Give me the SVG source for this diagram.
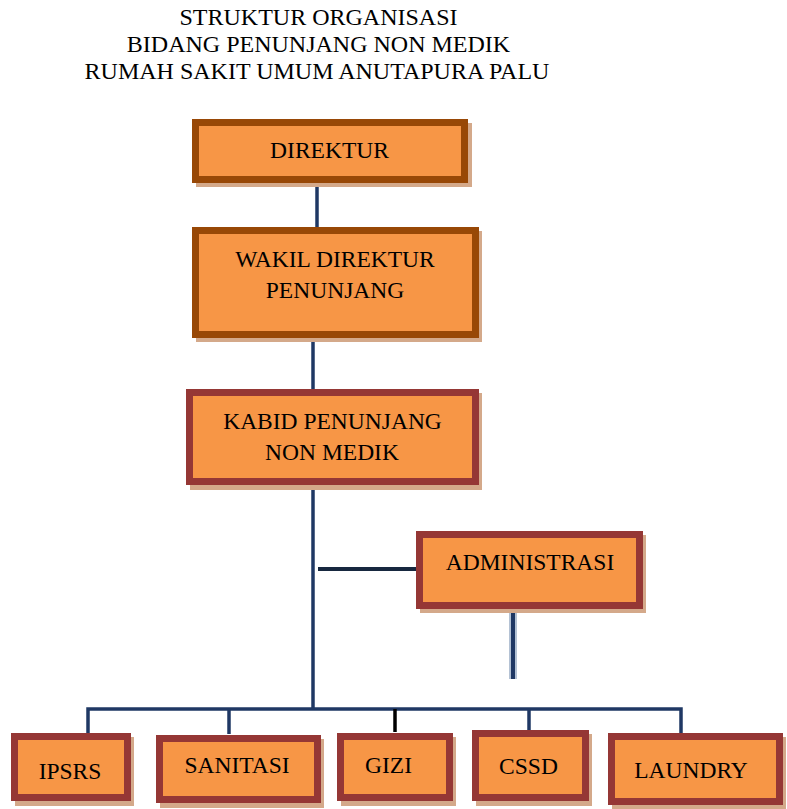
<svg xmlns="http://www.w3.org/2000/svg" width="787" height="809" viewBox="0 0 787 809">
<style>
.t{font-family:'Liberation Serif','Times New Roman',serif;font-size:23.5px;fill:#000;text-anchor:middle;}
.sh{fill:#d4a98a;}
.bx{fill:#f79646;stroke-width:7;}
.br{stroke:#984806;}
.rd{stroke:#953735;}
.c{stroke:#1f3864;stroke-width:3.5;fill:none;}
</style>
<rect width="787" height="809" fill="#fff"/>
<g id="title">
<text class="t" x="318.5" y="25" style="font-size:24px">STRUKTUR ORGANISASI</text>
<text class="t" x="318.5" y="52" style="font-size:24px">BIDANG PENUNJANG NON MEDIK</text>
<text class="t" x="317" y="79" style="font-size:24px">RUMAH SAKIT UMUM ANUTAPURA PALU</text>
</g>
<g id="connectors">
<line class="c" x1="317" y1="182" x2="317" y2="228"/>
<line class="c" x1="313" y1="337" x2="313" y2="390"/>
<line class="c" x1="313" y1="484" x2="313" y2="709"/>
<line x1="318" y1="569" x2="418" y2="569" stroke="#17283f" stroke-width="4"/>
<line x1="513" y1="610" x2="513" y2="679" stroke="#b4c2d4" stroke-width="8"/>
<line x1="513" y1="610" x2="513" y2="679" stroke="#1f3864" stroke-width="4"/>
<polyline class="c" points="88,737 88,709 681,709 681,737"/>
<line class="c" x1="229" y1="709" x2="229" y2="734"/>
<line x1="395" y1="709" x2="395" y2="732" stroke="#000" stroke-width="3.5"/>
<line class="c" x1="529" y1="709" x2="529" y2="731"/>
</g>
<g id="direktur">
<rect class="sh" x="196" y="123" width="276" height="64"/>
<rect class="bx br" x="195.5" y="122.5" width="269" height="57"/>
<text class="t" x="329.5" y="158">DIREKTUR</text>
</g>
<g id="wakil">
<rect class="sh" x="196" y="231" width="286" height="111"/>
<rect class="bx br" x="195.5" y="230.5" width="280" height="104"/>
<text class="t" x="335" y="267">WAKIL DIREKTUR</text>
<text class="t" x="335" y="298">PENUNJANG</text>
</g>
<g id="kabid">
<rect class="sh" x="190" y="393" width="292" height="97"/>
<rect class="bx rd" x="189.5" y="392.5" width="286" height="89"/>
<text class="t" x="332.5" y="429">KABID PENUNJANG</text>
<text class="t" x="332" y="460">NON MEDIK</text>
</g>
<g id="administrasi">
<rect class="sh" x="420" y="535" width="226" height="78"/>
<rect class="bx rd" x="419.5" y="534.5" width="220" height="71"/>
<text class="t" x="530" y="570">ADMINISTRASI</text>
</g>
<g id="ipsrs">
<rect class="sh" x="15" y="737" width="119" height="69"/>
<rect class="bx rd" x="14.5" y="736.5" width="113" height="61"/>
<text class="t" x="70" y="779">IPSRS</text>
</g>
<g id="sanitasi">
<rect class="sh" x="160" y="739" width="164" height="69"/>
<rect class="bx rd" x="159.5" y="738.5" width="158" height="61"/>
<text class="t" x="237" y="773">SANITASI</text>
</g>
<g id="gizi">
<rect class="sh" x="341" y="737" width="115" height="69"/>
<rect class="bx rd" x="340.5" y="736.5" width="109" height="61"/>
<text class="t" x="388.5" y="773">GIZI</text>
</g>
<g id="cssd">
<rect class="sh" x="476" y="734" width="116" height="72"/>
<rect class="bx rd" x="475.5" y="733.5" width="110" height="64"/>
<text class="t" x="528.5" y="774">CSSD</text>
</g>
<g id="laundry">
<rect class="sh" x="612" y="737" width="174" height="72"/>
<rect class="bx rd" x="611.5" y="736.5" width="168" height="65"/>
<text class="t" x="691" y="778">LAUNDRY</text>
</g>
</svg>
